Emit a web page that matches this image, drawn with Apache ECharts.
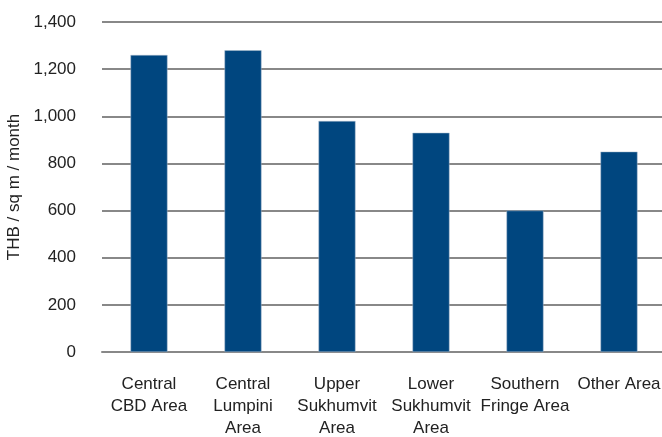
<!DOCTYPE html>
<html>
<head>
<meta charset="utf-8">
<script src="https://cdn.jsdelivr.net/npm/echarts@6/dist/echarts.min.js"></script>
<style>
    html, body { margin: 0; padding: 0; background: #fff; }
    #chart { width: 662px; height: 437px; }
</style>
</head>
<body>
<div id="chart"></div>
<script>
    // 区域名称与租金
    var areaNames = ['Central\nCBD Area', 'Central\nLumpini\nArea', 'Upper\nSukhumvit\nArea', 'Lower\nSukhumvit\nArea', 'Southern\nFringe Area', 'Other Area'];
    var rentValues = [1260, 1280, 980, 930, 600, 850];
    var yTicks = [0, 200, 400, 600, 800, 1000, 1200, 1400];

    var chart = echarts.init(document.getElementById('chart'));
    var fontName = '"Liberation Sans", Arial, sans-serif';

    var option = {
        animation: false,
        grid: {
            left: 102,
            top: 22,
            width: 564,
            height: 330,
            containLabel: false,
            outerBoundsMode: 'none'
        },
        xAxis: {
            type: 'category',
            data: areaNames,
            axisLine: { lineStyle: { color: '#888', width: 2 } },
            axisTick: { length: 6, lineStyle: { color: '#888', width: 2 } },
            axisLabel: {
                color: '#222',
                fontFamily: fontName,
                fontSize: 17,
                lineHeight: 22,
                margin: 21,
                interval: 0
            }
        },
        yAxis: {
            type: 'value',
            name: 'THB / sq m / month',
            nameLocation: 'middle',
            nameGap: 77,
            nameTextStyle: { color: '#222', fontFamily: fontName, fontSize: 17 },
            min: yTicks[0],
            max: yTicks[yTicks.length - 1],
            interval: 200,
            axisLine: { show: false },
            axisTick: { show: false },
            axisLabel: {
                color: '#222',
                fontFamily: fontName,
                fontSize: 17,
                margin: 26,
                formatter: function (v) { return v.toLocaleString('en-US'); }
            },
            splitLine: { lineStyle: { color: '#888', width: 2 } }
        },
        series: [{
            type: 'bar',
            data: rentValues,
            barWidth: 37,
            itemStyle: { color: '#00467F', borderColor: '#a9bccf', borderWidth: 0.5 }
        }]
    };
    chart.setOption(option);
</script>
</body>
</html>
